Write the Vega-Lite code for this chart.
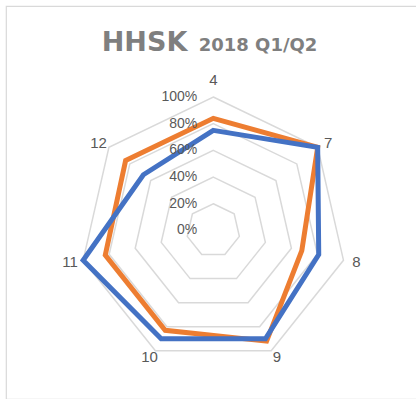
{
  "$schema": "https://vega.github.io/schema/vega-lite/v6.json",
  "width": 414,
  "height": 393,
  "autosize": {"type": "none"},
  "padding": {"left": 6, "top": 6, "right": 0, "bottom": 0},
  "background": "white",
  "config": {"view": {"stroke": "#d9d9d9", "strokeWidth": 1.2}, "text": {"font": "Liberation Sans"}},
  "datasets": {
    "cats": [
      {"cat": "4", "k": 0},
      {"cat": "7", "k": 1},
      {"cat": "8", "k": 2},
      {"cat": "9", "k": 3},
      {"cat": "10", "k": 4},
      {"cat": "11", "k": 5},
      {"cat": "12", "k": 6}
    ],
    "scores": [
      {"series": "Q2", "cat": "4", "value": 84},
      {"series": "Q2", "cat": "7", "value": 100},
      {"series": "Q2", "cat": "8", "value": 68},
      {"series": "Q2", "cat": "9", "value": 92},
      {"series": "Q2", "cat": "10", "value": 83},
      {"series": "Q2", "cat": "11", "value": 83},
      {"series": "Q2", "cat": "12", "value": 84},
      {"series": "Q1", "cat": "4", "value": 75},
      {"series": "Q1", "cat": "7", "value": 100},
      {"series": "Q1", "cat": "8", "value": 81},
      {"series": "Q1", "cat": "9", "value": 90},
      {"series": "Q1", "cat": "10", "value": 90},
      {"series": "Q1", "cat": "11", "value": 100},
      {"series": "Q1", "cat": "12", "value": 67}
    ],
    "levels": [
      {"level": 0}, {"level": 20}, {"level": 40}, {"level": 60}, {"level": 80}, {"level": 100}
    ],
    "rings": [
      {"level": 20, "k": [0, 1, 2, 3, 4, 5, 6]},
      {"level": 40, "k": [0, 1, 2, 3, 4, 5, 6]},
      {"level": 60, "k": [0, 1, 2, 3, 4, 5, 6]},
      {"level": 80, "k": [0, 1, 2, 3, 4, 5, 6]},
      {"level": 100, "k": [0, 1, 2, 3, 4, 5, 6]}
    ],
    "titles": [
      {"t": "HHSK"}
    ],
    "subtitles": [
      {"t": "2018 Q1/Q2"}
    ]
  },
  "layer": [
    {
      "data": {"name": "rings"},
      "transform": [
        {"flatten": ["k"]},
        {"calculate": "datum.level * sin(2 * PI * datum.k / 7)", "as": "x"},
        {"calculate": "datum.level * cos(2 * PI * datum.k / 7)", "as": "y"}
      ],
      "mark": {"type": "line", "interpolate": "linear-closed", "color": "#d9d9d9", "strokeWidth": 1.5},
      "encoding": {
        "x": {"field": "x", "type": "quantitative", "scale": {"domain": [-155.28, 154.83], "nice": false, "zero": false}, "axis": null},
        "y": {"field": "y", "type": "quantitative", "scale": {"domain": [-126.22, 168.16], "nice": false, "zero": false}, "axis": null},
        "detail": {"field": "level", "type": "nominal"},
        "order": {"field": "k", "type": "quantitative"}
      }
    },
    {
      "data": {"name": "scores"},
      "transform": [
        {"lookup": "cat", "from": {"data": {"name": "cats"}, "key": "cat", "fields": ["k"]}},
        {"calculate": "datum.value * sin(2 * PI * datum.k / 7)", "as": "x"},
        {"calculate": "datum.value * cos(2 * PI * datum.k / 7)", "as": "y"}
      ],
      "mark": {"type": "line", "interpolate": "linear-closed", "strokeWidth": 5, "strokeJoin": "miter"},
      "encoding": {
        "x": {"field": "x", "type": "quantitative", "scale": {"domain": [-155.28, 154.83], "nice": false, "zero": false}, "axis": null},
        "y": {"field": "y", "type": "quantitative", "scale": {"domain": [-126.22, 168.16], "nice": false, "zero": false}, "axis": null},
        "color": {"field": "series", "type": "nominal", "scale": {"domain": ["Q1", "Q2"], "range": ["#4472C4", "#ED7D31"]}, "legend": null},
        "detail": {"field": "series", "type": "nominal"},
        "order": {"field": "k", "type": "quantitative"}
      }
    },
    {
      "data": {"name": "cats"},
      "transform": [
        {"calculate": "110 * sin(2 * PI * datum.k / 7)", "as": "x"},
        {"calculate": "105 * cos(2 * PI * datum.k / 7) + (datum.k == 0 ? 7.5 : 0)", "as": "y"}
      ],
      "mark": {"type": "text", "fontSize": 15, "color": "#595959", "align": "center", "baseline": "middle"},
      "encoding": {
        "x": {"field": "x", "type": "quantitative", "scale": {"domain": [-155.28, 154.83], "nice": false, "zero": false}, "axis": null},
        "y": {"field": "y", "type": "quantitative", "scale": {"domain": [-126.22, 168.16], "nice": false, "zero": false}, "axis": null},
        "text": {"field": "cat"}
      }
    },
    {
      "data": {"name": "levels"},
      "transform": [{"calculate": "datum.level + '%'", "as": "lab"}],
      "mark": {"type": "text", "fontSize": 14, "color": "#595959", "align": "right", "baseline": "middle"},
      "encoding": {
        "x": {"datum": -12, "type": "quantitative", "scale": {"domain": [-155.28, 154.83], "nice": false, "zero": false}, "axis": null},
        "y": {"field": "level", "type": "quantitative", "scale": {"domain": [-126.22, 168.16], "nice": false, "zero": false}, "axis": null},
        "text": {"field": "lab"}
      }
    },
    {
      "data": {"name": "titles"},
      "mark": {"type": "text", "font": "DejaVu Sans", "fontWeight": "bold", "fontSize": 27, "color": "#7f7f7f", "align": "center", "baseline": "alphabetic"},
      "encoding": {
        "x": {"datum": -51.5, "type": "quantitative", "scale": {"domain": [-155.28, 154.83], "nice": false, "zero": false}, "axis": null},
        "y": {"datum": 134.5, "type": "quantitative", "scale": {"domain": [-126.22, 168.16], "nice": false, "zero": false}, "axis": null},
        "text": {"field": "t"}
      }
    },
    {
      "data": {"name": "subtitles"},
      "mark": {"type": "text", "font": "DejaVu Sans", "fontWeight": "bold", "fontSize": 18, "color": "#7f7f7f", "align": "center", "baseline": "alphabetic"},
      "encoding": {
        "x": {"datum": 33.5, "type": "quantitative", "scale": {"domain": [-155.28, 154.83], "nice": false, "zero": false}, "axis": null},
        "y": {"datum": 134.5, "type": "quantitative", "scale": {"domain": [-126.22, 168.16], "nice": false, "zero": false}, "axis": null},
        "text": {"field": "t"}
      }
    }
  ]
}
